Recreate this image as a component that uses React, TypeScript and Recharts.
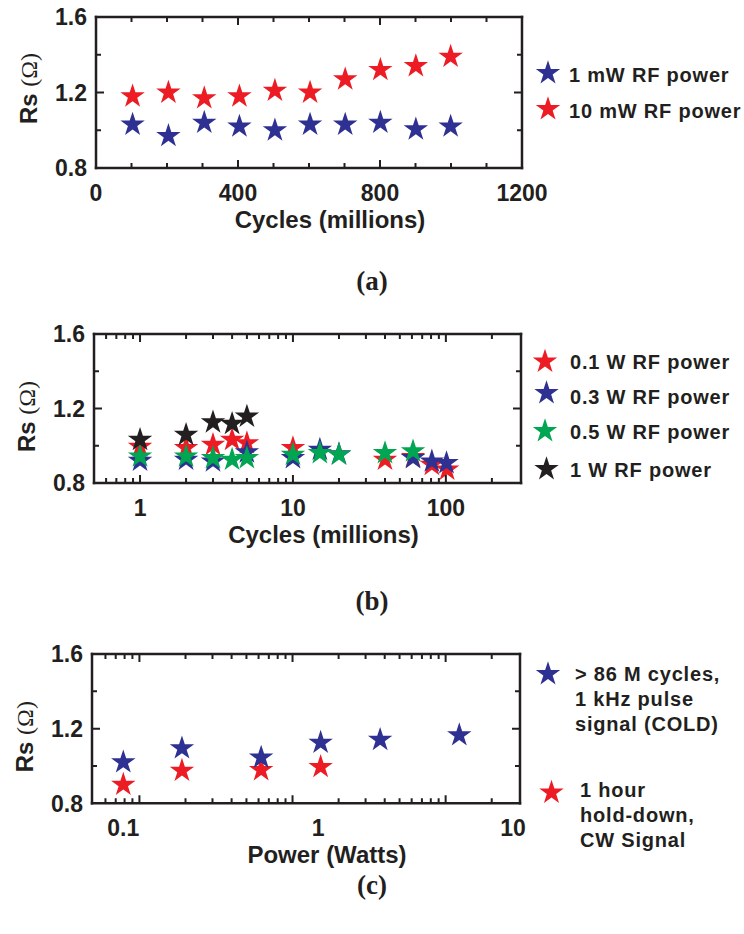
import React from 'react';
import { ScatterChart, Scatter, XAxis, YAxis, Symbols } from 'recharts';

const INK = '#231f20';
const BLUE = '#2e3192';
const RED = '#ed1c24';
const GREEN = '#00a651';
const BLACK = '#231f20';
const SANS = "'Liberation Sans', Arial, Helvetica, sans-serif";
const SERIF = "'Liberation Serif', 'Times New Roman', serif";
const STAR = 185;
const THIN = 0.01;

// ---------- Panel (a) ----------
const cyclesA = [103, 204, 305, 404, 504, 603, 702, 801, 901, 999];
const rs1mW = [1.03, 0.97, 1.04, 1.02, 1.0, 1.03, 1.03, 1.04, 1.005, 1.02];
const rs10mW = [1.18, 1.2, 1.17, 1.18, 1.21, 1.2, 1.27, 1.32, 1.34, 1.39];
const ticksAX = [0, 100, 200, 300, 400, 500, 600, 700, 800, 900, 1000, 1100, 1200];
const majorsAX = [0, 400, 800, 1200];

// ---------- common Y ----------
const ticksY = [0.8, 1.0, 1.2, 1.4, 1.6];
const majorsY = [0.8, 1.2, 1.6];

// ---------- Panel (b) ----------
const cyc01W = [1, 2, 3, 4, 5, 10, 40, 61, 81, 102];
const rs01W = [0.995, 0.988, 1.005, 1.032, 1.014, 0.988, 0.925, 0.94, 0.898, 0.872];
const cyc03W = [1, 2, 3, 5, 10, 15, 20, 61, 81, 101];
const rs03W = [0.92, 0.925, 0.916, 0.965, 0.934, 0.979, 0.955, 0.934, 0.916, 0.907];
const cyc05W = [1, 2, 3, 4, 5, 10, 15, 20, 40, 61];
const rs05W = [0.943, 0.943, 0.934, 0.925, 0.934, 0.952, 0.961, 0.952, 0.961, 0.97];
const cyc1W = [1, 2, 3, 4, 5];
const rs1W = [1.032, 1.059, 1.126, 1.118, 1.157];
const ticksLog = [0.6, 0.7, 0.8, 0.9, 1, 2, 3, 4, 5, 6, 7, 8, 9, 10, 20, 30, 40, 50, 60, 70, 80, 90, 100, 200];
const majorsLog = [1, 10, 100];

// ---------- Panel (c) ----------
const powerCold = [0.1, 0.2, 0.51, 1.03, 2.08, 5.3];
const rsCold = [1.02, 1.095, 1.045, 1.125, 1.14, 1.165];
const powerCW = [0.1, 0.2, 0.51, 1.03];
const rsCW = [0.9, 0.975, 0.978, 0.995];
const ticksPowerLabels = [0.1, 1, 10];

// ---------- layout ----------
const W = 744;
const LAYOUT = {
  a: { pageTop: 0, height: 300, margin: { top: 17, bottom: 132, left: 96, right: 222 } },
  b: { pageTop: 300, height: 300, margin: { top: 34, bottom: 117, left: 94, right: 223 } },
  c: { pageTop: 600, height: 334, margin: { top: 54, bottom: 130.7, left: 92, right: 224 } },
};
const DOM_A: [number, number] = [0, 1200];
const DOM_B: [number, number] = [0.5, 310];
const DOM_C_TICKS: [number, number] = [0.49, 306];
const DOM_C_DATA: [number, number] = [0.0691, 10.86];
const DOM_Y: [number, number] = [0.8, 1.6];

const zip = (xs: number[], ys: number[]) => xs.map((x, i) => ({ x, y: ys[i] }));
const isIn = (arr: number[], v: number) => arr.some((m) => Math.abs(m - v) < 1e-9);

const textProps = { fill: INK, fontFamily: SANS, fontWeight: 700, fontSize: 23 } as const;

const makeLabelX = (majors: number[]) => (props: any) => {
  const { x, y, payload } = props;
  const v = payload.value as number;
  if (!isIn(majors, v)) return <g />;
  return (
    <text x={x} y={y + 33} textAnchor="middle" {...textProps}>
      {String(v)}
    </text>
  );
};
const labelY = (props: any) => {
  const { x, y, payload } = props;
  const v = payload.value as number;
  return (
    <text x={x - 9} y={y} dy="0.36em" textAnchor="end" {...textProps}>
      {v.toFixed(1)}
    </text>
  );
};

const axisLineStyle = { stroke: INK, strokeWidth: 2.5, strokeLinecap: 'square' as const };

const yTitle = (dy: number) => (props: any) => {
  const vb = props.viewBox || { x: 0, y: 0, width: 0, height: 0 };
  const cx = vb.x + vb.width - 68;
  const cy = vb.y + vb.height / 2 + dy;
  return (
    <text x={cx} y={cy} transform={`rotate(-90 ${cx} ${cy})`} textAnchor="middle" dy="0.36em" fill={INK} fontSize={24}>
      <tspan fontFamily={SANS} fontWeight={700}>
        Rs{' '}
      </tspan>
      <tspan fontFamily={SERIF} fontWeight={400}>
        (Ω)
      </tspan>
    </text>
  );
};

const xTitle = (text: string, dx: number) => (props: any) => {
  const vb = props.viewBox || { x: 0, y: 0, width: 0, height: 0 };
  const cx = vb.x + vb.width / 2 + dx;
  const cy = vb.y + 60;
  return (
    <text x={cx} y={cy} textAnchor="middle" fill={INK} fontFamily={SANS} fontWeight={700} fontSize={24}>
      {text}
    </text>
  );
};

const starShape = (color: string) => (p: any) => <Symbols cx={p.cx} cy={p.cy} type="star" size={STAR} fill={color} />;

type Scale = 'auto' | 'log';

const baseAxis = { type: 'number' as const, interval: 0 as const, tickSize: 0, tickMargin: 0, tickLine: false, allowDataOverflow: true };

const dataY = (dy: number) => (
  <YAxis
    {...baseAxis}
    yAxisId="y"
    dataKey="y"
    domain={DOM_Y}
    ticks={majorsY}
    width={THIN}
    axisLine={axisLineStyle}
    tick={labelY}
    label={yTitle(dy)}
  />
);

const frameTopRight = (scale: Scale, domain: [number, number]) => [
  <XAxis key="top" {...baseAxis} xAxisId="top" orientation="top" scale={scale} domain={domain} height={THIN} tick={false} axisLine={axisLineStyle} />,
  <YAxis key="right" {...baseAxis} yAxisId="right" orientation="right" domain={DOM_Y} width={THIN} tick={false} axisLine={axisLineStyle} />,
];

function PanelA() {
  const L = LAYOUT.a;
  return (
    <ScatterChart width={W} height={L.height} margin={L.margin}>
      <XAxis
        {...baseAxis}
        xAxisId="x"
        dataKey="x"
        domain={DOM_A}
        ticks={majorsAX}
        height={THIN}
        axisLine={axisLineStyle}
        tick={makeLabelX(majorsAX)}
        label={xTitle('Cycles (millions)', 21)}
      />
      {dataY(-4)}
      {frameTopRight('auto', DOM_A)}
      <Scatter name="10 mW RF power" xAxisId="x" yAxisId="y" data={zip(cyclesA, rs10mW)} shape={starShape(RED)} isAnimationActive={false} />
      <Scatter name="1 mW RF power" xAxisId="x" yAxisId="y" data={zip(cyclesA, rs1mW)} shape={starShape(BLUE)} isAnimationActive={false} />
    </ScatterChart>
  );
}

function PanelB() {
  const L = LAYOUT.b;
  return (
    <ScatterChart width={W} height={L.height} margin={L.margin}>
      <XAxis
        {...baseAxis}
        xAxisId="x"
        dataKey="x"
        scale="log"
        domain={DOM_B}
        ticks={majorsLog}
        height={THIN}
        axisLine={axisLineStyle}
        tick={makeLabelX(majorsLog)}
        label={xTitle('Cycles (millions)', 16)}
      />
      {dataY(8)}
      {frameTopRight('log', DOM_B)}
      <Scatter name="0.1 W RF power" xAxisId="x" yAxisId="y" data={zip(cyc01W, rs01W)} shape={starShape(RED)} isAnimationActive={false} />
      <Scatter name="0.3 W RF power" xAxisId="x" yAxisId="y" data={zip(cyc03W, rs03W)} shape={starShape(BLUE)} isAnimationActive={false} />
      <Scatter name="0.5 W RF power" xAxisId="x" yAxisId="y" data={zip(cyc05W, rs05W)} shape={starShape(GREEN)} isAnimationActive={false} />
      <Scatter name="1 W RF power" xAxisId="x" yAxisId="y" data={zip(cyc1W, rs1W)} shape={starShape(BLACK)} isAnimationActive={false} />
    </ScatterChart>
  );
}

function PanelC() {
  const L = LAYOUT.c;
  return (
    <ScatterChart width={W} height={L.height} margin={L.margin}>
      <XAxis {...baseAxis} xAxisId="xb" scale="log" domain={DOM_C_TICKS} height={THIN} tick={false} axisLine={axisLineStyle} />
      <XAxis
        {...baseAxis}
        xAxisId="x"
        dataKey="x"
        scale="log"
        domain={DOM_C_DATA}
        ticks={ticksPowerLabels}
        height={THIN}
        axisLine={false}
        tick={makeLabelX(ticksPowerLabels)}
        label={xTitle('Power (Watts)', 21)}
      />
      {dataY(8)}
      {frameTopRight('log', DOM_C_TICKS)}
      <Scatter name="1 hour hold-down, CW Signal" xAxisId="x" yAxisId="y" data={zip(powerCW, rsCW)} shape={starShape(RED)} isAnimationActive={false} />
      <Scatter name="> 86 M cycles, 1 kHz pulse signal (COLD)" xAxisId="x" yAxisId="y" data={zip(powerCold, rsCold)} shape={starShape(BLUE)} isAnimationActive={false} />
    </ScatterChart>
  );
}

// ---------- inward frame tick marks (axis decoration) ----------
type FrameSpec = { L: { pageTop: number; height: number; margin: { top: number; bottom: number; left: number; right: number } }; dom: [number, number]; log: boolean; xTicks: number[]; xMajors: number[] };

function FrameTicks({ spec }: { spec: FrameSpec }) {
  const { L, dom, log, xTicks, xMajors } = spec;
  const left = L.margin.left;
  const right = W - L.margin.right;
  const top = L.pageTop + L.margin.top;
  const bottom = L.pageTop + L.height - L.margin.bottom;
  const fx = (v: number) =>
    log
      ? left + ((Math.log10(v) - Math.log10(dom[0])) / (Math.log10(dom[1]) - Math.log10(dom[0]))) * (right - left)
      : left + ((v - dom[0]) / (dom[1] - dom[0])) * (right - left);
  const fy = (v: number) => bottom - ((v - DOM_Y[0]) / (DOM_Y[1] - DOM_Y[0])) * (bottom - top);
  const parts: string[] = [];
  xTicks.forEach((v) => {
    if (v <= dom[0] || v >= dom[1]) return;
    const len = isIn(xMajors, v) ? 8 : 5;
    const x = fx(v);
    parts.push(`M${x - 1},${bottom}h2v${-len}h-2Z`);
    parts.push(`M${x - 1},${top}h2v${len}h-2Z`);
  });
  ticksY.forEach((v) => {
    if (v <= DOM_Y[0] || v >= DOM_Y[1]) return;
    const len = isIn(majorsY, v) ? 8 : 5;
    const y = fy(v);
    parts.push(`M${left},${y - 1}h${len}v2h${-len}Z`);
    parts.push(`M${right},${y - 1}h${-len}v2h${len}Z`);
  });
  return <path d={parts.join('')} fill={INK} />;
}

const legendText = { fill: INK, fontFamily: SANS, fontWeight: 700, fontSize: 20, letterSpacing: 0.8 } as const;

function LegendItem({ sx, sy, color, tx, lines }: { sx: number; sy: number; color: string; tx: number; lines: { text: string; y: number }[] }) {
  return (
    <g>
      <Symbols cx={sx} cy={sy + 1} type="star" size={STAR} fill={color} />
      {lines.map((l, i) => (
        <text key={i} x={tx} y={l.y} {...legendText}>
          {l.text}
        </text>
      ))}
    </g>
  );
}

function Overlay() {
  return (
    <svg width={744} height={934} style={{ position: 'absolute', left: 0, top: 0, pointerEvents: 'none' }}>
      <FrameTicks spec={{ L: LAYOUT.a, dom: DOM_A, log: false, xTicks: ticksAX, xMajors: majorsAX }} />
      <FrameTicks spec={{ L: LAYOUT.b, dom: DOM_B, log: true, xTicks: ticksLog, xMajors: majorsLog }} />
      <FrameTicks spec={{ L: LAYOUT.c, dom: DOM_C_TICKS, log: true, xTicks: ticksLog, xMajors: majorsLog }} />
      <LegendItem sx={548} sy={72} color={BLUE} tx={569} lines={[{ text: '1 mW RF power', y: 82 }]} />
      <LegendItem sx={548} sy={108} color={RED} tx={569} lines={[{ text: '10 mW RF power', y: 117.5 }]} />
      <LegendItem sx={545} sy={360.5} color={RED} tx={570} lines={[{ text: '0.1 W RF power', y: 368.5 }]} />
      <LegendItem sx={546.5} sy={392} color={BLUE} tx={570} lines={[{ text: '0.3 W RF power', y: 403.5 }]} />
      <LegendItem sx={545} sy={430} color={GREEN} tx={570} lines={[{ text: '0.5 W RF power', y: 438.5 }]} />
      <LegendItem sx={546.5} sy={468} color={BLACK} tx={570} lines={[{ text: '1 W RF power', y: 477 }]} />
      <LegendItem
        sx={548}
        sy={673}
        color={BLUE}
        tx={575}
        lines={[
          { text: '> 86 M cycles,', y: 681 },
          { text: '1 kHz pulse', y: 705.5 },
          { text: 'signal (COLD)', y: 731 },
        ]}
      />
      <LegendItem
        sx={551.5}
        sy={791.5}
        color={RED}
        tx={580}
        lines={[
          { text: '1 hour', y: 797 },
          { text: 'hold-down,', y: 822 },
          { text: 'CW Signal', y: 847 },
        ]}
      />
      <text x={372} y={290} textAnchor="middle" fill={INK} fontFamily={SERIF} fontWeight={700} fontSize={27}>
        (a)
      </text>
      <text x={372} y={610} textAnchor="middle" fill={INK} fontFamily={SERIF} fontWeight={700} fontSize={27}>
        (b)
      </text>
      <text x={372} y={894} textAnchor="middle" fill={INK} fontFamily={SERIF} fontWeight={700} fontSize={27}>
        (c)
      </text>
    </svg>
  );
}

export default function App() {
  return (
    <div style={{ position: 'absolute', left: 0, top: 0, width: 744, height: 934, background: '#fff' }}>
      <div style={{ position: 'absolute', left: 0, top: LAYOUT.a.pageTop }}>
        <PanelA />
      </div>
      <div style={{ position: 'absolute', left: 0, top: LAYOUT.b.pageTop }}>
        <PanelB />
      </div>
      <div style={{ position: 'absolute', left: 0, top: LAYOUT.c.pageTop }}>
        <PanelC />
      </div>
      <Overlay />
    </div>
  );
}
